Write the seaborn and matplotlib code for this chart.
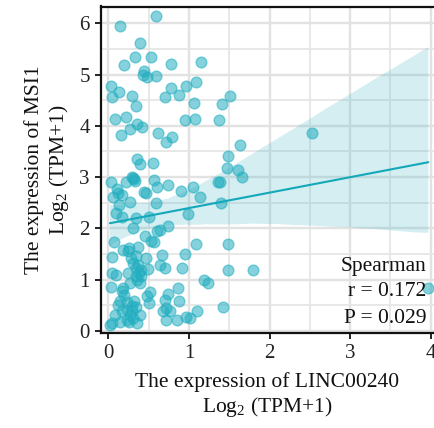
import numpy as np
import pandas as pd
import matplotlib
matplotlib.use("Agg")
import matplotlib.pyplot as plt
import seaborn as sns
from matplotlib.ticker import MultipleLocator

# ---- data ----
linc00240 = [0.59, 0.15, 0.39, 0.33, 0.53, 0.19, 0.78, 1.15, 0.44, 0.43, 0.48, 0.59,
             0.03, 0.13, 0.05, 0.30, 0.34, 0.78, 0.70, 0.88, 0.96, 1.09, 1.06, 0.95,
             1.08, 1.41, 1.51, 1.37, 0.08, 0.22, 0.16, 0.27, 0.36, 0.42, 0.62, 0.71,
             0.79, 0.36, 0.39, 0.55, 1.64, 1.49, 1.47, 1.61, 1.66, 1.38, 2.53, 0.04,
             0.11, 0.22, 0.30, 0.32, 0.33, 0.31, 0.44, 0.47, 0.57, 0.60, 0.74, 0.90,
             1.05, 1.14, 1.36, 0.06, 0.12, 0.17, 0.27, 0.13, 0.59, 0.99, 0.10, 0.17,
             0.35, 0.50, 1.40, 0.31, 0.64, 0.74, 0.61, 0.07, 0.45, 0.53, 0.57, 1.09,
             0.18, 0.26, 0.25, 0.37, 0.67, 0.95, 0.05, 0.28, 0.34, 0.47, 0.64, 0.70,
             0.91, 0.31, 0.37, 0.35, 0.41, 0.49, 0.38, 0.05, 0.10, 0.25, 0.35, 0.41,
             0.27, 0.39, 0.36, 1.19, 1.24, 0.04, 0.18, 0.17, 0.19, 0.52, 0.48, 0.74,
             0.86, 0.70, 0.88, 0.14, 0.23, 0.32, 0.29, 0.35, 0.51, 0.12, 0.23, 0.29,
             0.17, 0.27, 0.39, 0.08, 0.68, 0.72, 0.77, 1.10, 0.05, 0.02, 0.15, 0.26,
             0.36, 0.72, 0.85, 0.96, 0.23, 0.31, 1.49, 1.80, 1.48, 1.42, 1.01, 3.97]
msi1 = [6.15, 5.95, 5.61, 5.35, 5.35, 5.18, 5.21, 5.24, 5.08, 4.99, 4.96, 4.97,
        4.77, 4.67, 4.56, 4.59, 4.39, 4.73, 4.56, 4.61, 4.77, 4.85, 4.45, 4.11,
        4.13, 4.42, 4.58, 4.11, 4.14, 4.18, 3.83, 3.93, 4.03, 3.97, 3.87, 3.68,
        3.79, 3.35, 3.25, 3.27, 3.63, 3.42, 3.17, 3.14, 3.00, 2.91, 3.87, 2.90,
        2.76, 2.90, 3.01, 2.96, 2.92, 2.98, 2.70, 2.68, 2.94, 2.81, 2.84, 2.73,
        2.81, 2.62, 2.90, 2.61, 2.68, 2.65, 2.51, 2.45, 2.50, 2.28, 2.29, 2.23,
        2.20, 2.23, 2.49, 2.01, 1.97, 2.05, 1.94, 1.74, 1.84, 1.76, 1.73, 1.69,
        1.57, 1.61, 1.55, 1.63, 1.48, 1.50, 1.44, 1.42, 1.45, 1.42, 1.29, 1.22,
        1.22, 1.32, 1.29, 1.22, 1.19, 1.20, 1.12, 1.12, 1.08, 1.12, 1.06, 1.07,
        0.94, 0.93, 0.99, 0.99, 0.93, 0.86, 0.84, 0.77, 0.70, 0.75, 0.68, 0.72,
        0.83, 0.60, 0.59, 0.58, 0.56, 0.58, 0.49, 0.47, 0.54, 0.51, 0.41, 0.38,
        0.38, 0.31, 0.31, 0.30, 0.38, 0.44, 0.38, 0.38, 0.15, 0.12, 0.17, 0.17,
        0.15, 0.21, 0.21, 0.27, 0.21, 0.25, 1.19, 1.18, 1.70, 0.46, 0.25, 0.83]

stat_lines = ["Spearman", "r = 0.172", "P = 0.029"]
x_ticks = [0, 1, 2, 3, 4]
y_ticks = [0, 1, 2, 3, 4, 5, 6]
x_label = "The expression of LINC00240\nLog$_2$ (TPM+1)"
y_label = "The expression of MSI1\nLog$_2$ (TPM+1)"

df = pd.DataFrame({"x": linc00240, "y": msi1})

sns.set_theme(style="white")
plt.rcParams["font.family"] = ["Liberation Serif", "DejaVu Serif"]
plt.rcParams["mathtext.fontset"] = "custom"
plt.rcParams["mathtext.rm"] = "Liberation Serif"
plt.rcParams["mathtext.it"] = "Liberation Serif:italic"

W, H = 434, 428
fig = plt.figure(figsize=(W / 100, H / 100), dpi=100)
ax = fig.add_axes([101 / W, (H - 333.3) / H, (434 - 101) / W, (333.3 - 6.5) / H])

pt_color = "#22AEC0"
line_color = "#13A8BA"

sns.regplot(data=df, x="x", y="y", ax=ax, ci=95, n_boot=1000, seed=7,
            scatter_kws=dict(s=60, color=pt_color, alpha=0.55, edgecolor=pt_color,
                             linewidths=1.0, zorder=3),
            line_kws=dict(color=line_color, lw=1.5, zorder=4),
            color=line_color)
for coll in ax.collections[1:]:
    coll.set_alpha(0.24)
    coll.set_facecolor("#4DB9C8")
    coll.set_edgecolor("none")

ax.set_xlim(-0.09, 4.04)
ax.set_ylim(-0.05, 6.33)
ax.set_xticks(x_ticks)
ax.set_yticks(y_ticks)
ax.xaxis.set_minor_locator(MultipleLocator(0.5))
ax.yaxis.set_minor_locator(MultipleLocator(0.5))
ax.grid(True, which="major", color="#E2E2E2", lw=1.7, zorder=0)
ax.grid(True, which="minor", color="#E6E6E6", lw=1.3, zorder=0)
ax.set_axisbelow(True)

for side in ["left", "bottom", "top"]:
    ax.spines[side].set_visible(True)
    ax.spines[side].set_color("#111111")
    ax.spines[side].set_linewidth(1.6)
ax.spines["right"].set_visible(False)

ax.tick_params(axis="both", which="major", direction="out", length=4, width=1.3,
               color="#111111", labelsize=15, labelcolor="#222222", pad=4,
               bottom=True, left=True)
ax.tick_params(axis="both", which="minor", length=0)

ax.set_xlabel(x_label, fontsize=15.5, color="#111111", labelpad=6, linespacing=1.2)
ax.set_ylabel(y_label, fontsize=15.5, color="#111111", labelpad=6, linespacing=1.2)

ys = [0.204, 0.127, 0.046]
for txt, yy in zip(stat_lines, ys):
    ax.text(0.976, yy, txt, transform=ax.transAxes, ha="right", va="center",
            fontsize=15.5, color="#111111", zorder=6)

fig.savefig("out.png", dpi=100)
